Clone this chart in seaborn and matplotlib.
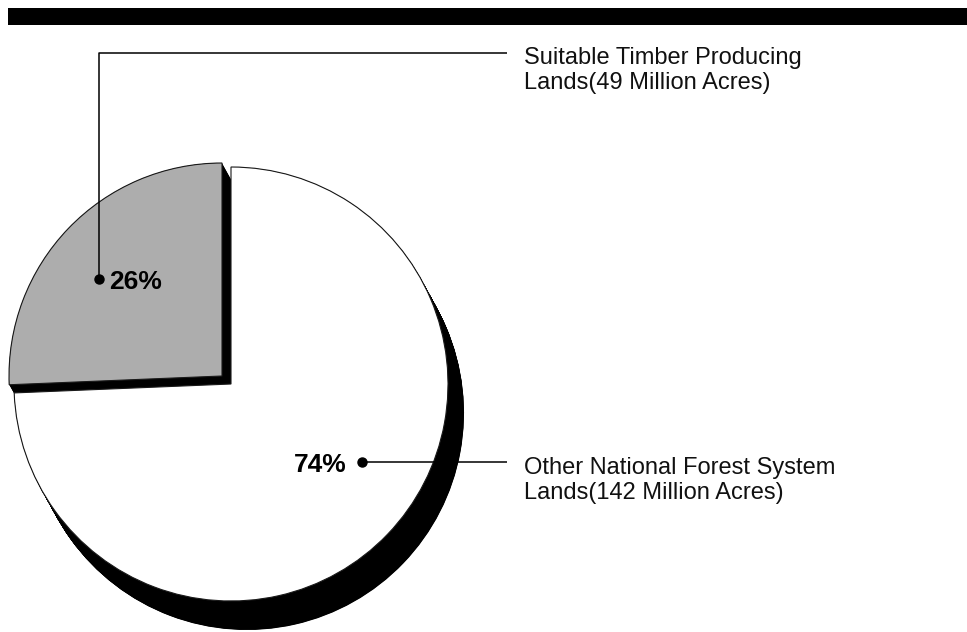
import numpy as np
import matplotlib
matplotlib.use("Agg")
import matplotlib.pyplot as plt
from matplotlib.patches import Wedge, Rectangle
import seaborn as sns

# Data
categories = ["Suitable Timber Producing Lands", "Other National Forest System Lands"]
acres_millions = [49, 142]
pct_labels = ["26%", "74%"]
legend_lines = [["Suitable Timber Producing", "Lands(49 Million Acres)"],
                ["Other National Forest System", "Lands(142 Million Acres)"]]

sns.set_theme(style="white")
plt.rcParams["font.family"] = ["Liberation Sans", "DejaVu Sans"]
plt.rcParams["text.color"] = "black"

W, H = 967, 632
fig = plt.figure(figsize=(W / 100, H / 100), dpi=100)
ax = fig.add_axes([0, 0, 1, 1])


def Y(y):
    """Convert a top-down pixel row to the upward data axis."""
    return H - y


slice_colors = ["#adadad", "#ffffff"]
edge = dict(edgecolor="#1a1a1a", linewidth=0.8)

# each slice has its own pull-out position and radius
geometry = [dict(center=(222, Y(376)), radius=213),
            dict(center=(231, Y(384)), radius=217)]

drawn = []
for i, geo in enumerate(geometry):
    wedges, _ = ax.pie(acres_millions, startangle=90, counterclock=True,
                       colors=slice_colors, center=geo["center"],
                       radius=geo["radius"], wedgeprops=edge)
    for j, w in enumerate(wedges):
        if j != i:
            w.set_visible(False)
        else:
            w.set_zorder(3 if i == 0 else 2)
            drawn.append(w)

# extruded black shadow falling to the lower right
shadow_off = np.array([16.0, -29.0])
for w in drawn:
    cx, cy = w.center
    for t in np.linspace(0, 1, 80):
        ax.add_patch(Wedge((cx + t * shadow_off[0], cy + t * shadow_off[1]),
                           w.r, w.theta1, w.theta2, facecolor="black",
                           edgecolor="none", zorder=1))

# heading band
ax.add_patch(Rectangle((8, Y(25)), W - 8, 17, facecolor="black",
                       edgecolor="none", zorder=5))

line_kw = dict(color="black", linewidth=1.1, zorder=6, solid_capstyle="butt")
dot_kw = dict(marker="o", markersize=6.5, color="black", zorder=7)

# leader for the suitable-lands slice
ax.plot([99, 99, 507], [Y(279), Y(53), Y(53)], **line_kw)
ax.plot([99], [Y(279)], **dot_kw)
ax.text(109, Y(289), pct_labels[0], fontsize=19, fontweight="bold",
        ha="left", va="baseline", color="black", zorder=8)
ax.text(524, Y(64), legend_lines[0][0], fontsize=17, ha="left",
        va="baseline", color="#111111", zorder=8)
ax.text(524, Y(89), legend_lines[0][1], fontsize=17, ha="left",
        va="baseline", color="#111111", zorder=8)

# leader for the remaining forest lands
ax.plot([362, 507], [Y(461.5), Y(461.5)], **line_kw)
ax.plot([362], [Y(461.5)], **dot_kw)
ax.text(347, Y(472), pct_labels[1], fontsize=19, fontweight="bold",
        ha="right", va="baseline", color="black", zorder=8)
ax.text(524, Y(474), legend_lines[1][0], fontsize=17, ha="left",
        va="baseline", color="#111111", zorder=8)
ax.text(524, Y(499), legend_lines[1][1], fontsize=17, ha="left",
        va="baseline", color="#111111", zorder=8)

ax.set_xlim(0, W)
ax.set_ylim(0, H)
ax.set_aspect("auto")
ax.axis("off")

fig.savefig("out.png", dpi=100, facecolor="white")
